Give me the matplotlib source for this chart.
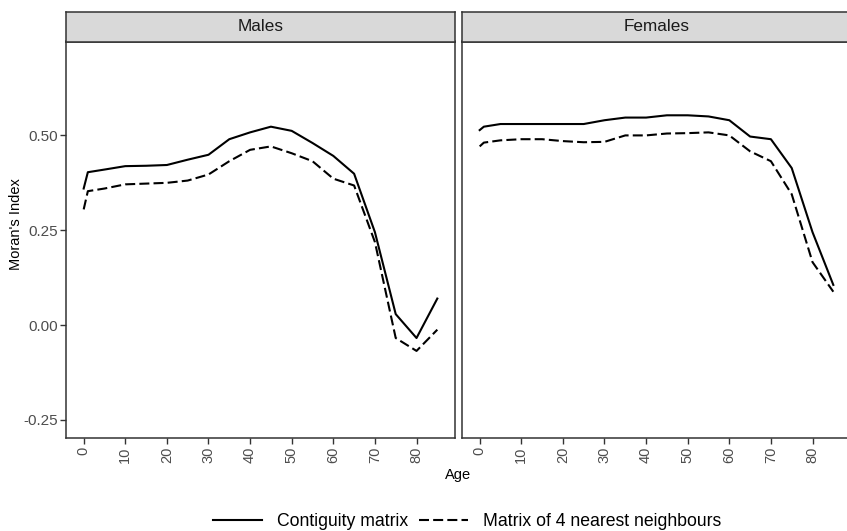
import matplotlib
matplotlib.use('Agg')
import matplotlib.pyplot as plt
from matplotlib.lines import Line2D

plt.rcParams['font.family'] = ['Liberation Sans', 'DejaVu Sans']

# Data
ages = [0, 1, 5, 10, 15, 20, 25, 30, 35, 40, 45, 50, 55, 60, 65, 70, 75, 80, 85]
males_contig = [0.360, 0.403, 0.410, 0.419, 0.420, 0.422, 0.436, 0.449, 0.490, 0.508,
                0.523, 0.512, 0.480, 0.446, 0.399, 0.245, 0.029, -0.034, 0.070]
males_knn = [0.305, 0.353, 0.360, 0.371, 0.373, 0.375, 0.381, 0.397, 0.432, 0.462,
             0.471, 0.453, 0.432, 0.386, 0.368, 0.219, -0.034, -0.068, -0.012]
females_contig = [0.514, 0.523, 0.530, 0.530, 0.530, 0.530, 0.530, 0.540, 0.547, 0.547,
                  0.553, 0.553, 0.550, 0.540, 0.497, 0.490, 0.414, 0.245, 0.106]
females_knn = [0.471, 0.481, 0.487, 0.490, 0.490, 0.485, 0.482, 0.483, 0.500, 0.500,
               0.505, 0.506, 0.508, 0.500, 0.458, 0.432, 0.345, 0.166, 0.088]

panels = ['Males', 'Females']
series = {'Males': (males_contig, males_knn), 'Females': (females_contig, females_knn)}
yticks = [-0.25, 0.0, 0.25, 0.5]
xticks = [0, 10, 20, 30, 40, 50, 60, 70, 80]

W, H = 847, 531
fig = plt.figure(figsize=(W / 100, H / 100), dpi=100)
fig.patch.set_facecolor('white')

dash = (0, (4.8, 2.0))
edge = '#333333'
lefts = [66, 462]
pw, top, bot = 389, 41.5, 438

for i, name in enumerate(panels):
    ax = fig.add_axes([lefts[i] / W, (H - bot) / H, pw / W, (bot - top) / H])
    contig, knn = series[name]
    ax.plot(ages, contig, color='black', lw=1.5)
    ax.plot(ages, knn, color='black', lw=1.5, linestyle=dash)
    ax.set_xlim(-4.25, 89.25)
    ax.set_ylim(-0.2975, 0.7475)
    ax.set_xticks(xticks)
    ax.set_xticklabels([str(t) for t in xticks], rotation=90, fontsize=10.5, color='#4D4D4D')
    ax.set_yticks(yticks)
    for s in ax.spines.values():
        s.set_color(edge)
        s.set_linewidth(1.1)
    ax.tick_params(axis='x', length=4, width=1, color=edge, pad=2)
    if i == 0:
        ax.set_yticklabels(['-0.25', '0.00', '0.25', '0.50'], fontsize=11, color='#4D4D4D')
        ax.tick_params(axis='y', length=4, width=1, color=edge, pad=2)
    else:
        ax.tick_params(axis='y', left=False, labelleft=False)

    # facet strip
    sx = fig.add_axes([lefts[i] / W, (H - top) / H, pw / W, 29.5 / H])
    sx.set_facecolor('#D9D9D9')
    sx.set_xticks([])
    sx.set_yticks([])
    for s in sx.spines.values():
        s.set_color(edge)
        s.set_linewidth(1.1)
    sx.text(0.5, 0.5, name, ha='center', va='center', fontsize=12.3, color='#1A1A1A',
            transform=sx.transAxes)

fig.text(16 / W, 1 - 224 / H, "Moran's Index", rotation=90, ha='center', va='center',
         fontsize=10.5)
fig.text(458 / W, 1 - 475 / H, 'Age', ha='center', va='center', fontsize=10.5)

handles = [Line2D([], [], color='black', lw=1.5),
           Line2D([], [], color='black', lw=1.5, linestyle=dash)]
fig.legend(handles, ['Contiguity matrix', 'Matrix of 4 nearest neighbours'],
           loc='center', bbox_to_anchor=(467 / W, 1 - 521.5 / H), ncol=2, frameon=False,
           fontsize=12.7, handlelength=2.8, handletextpad=0.85, columnspacing=0.6)

fig.savefig('out.png', dpi=100)
